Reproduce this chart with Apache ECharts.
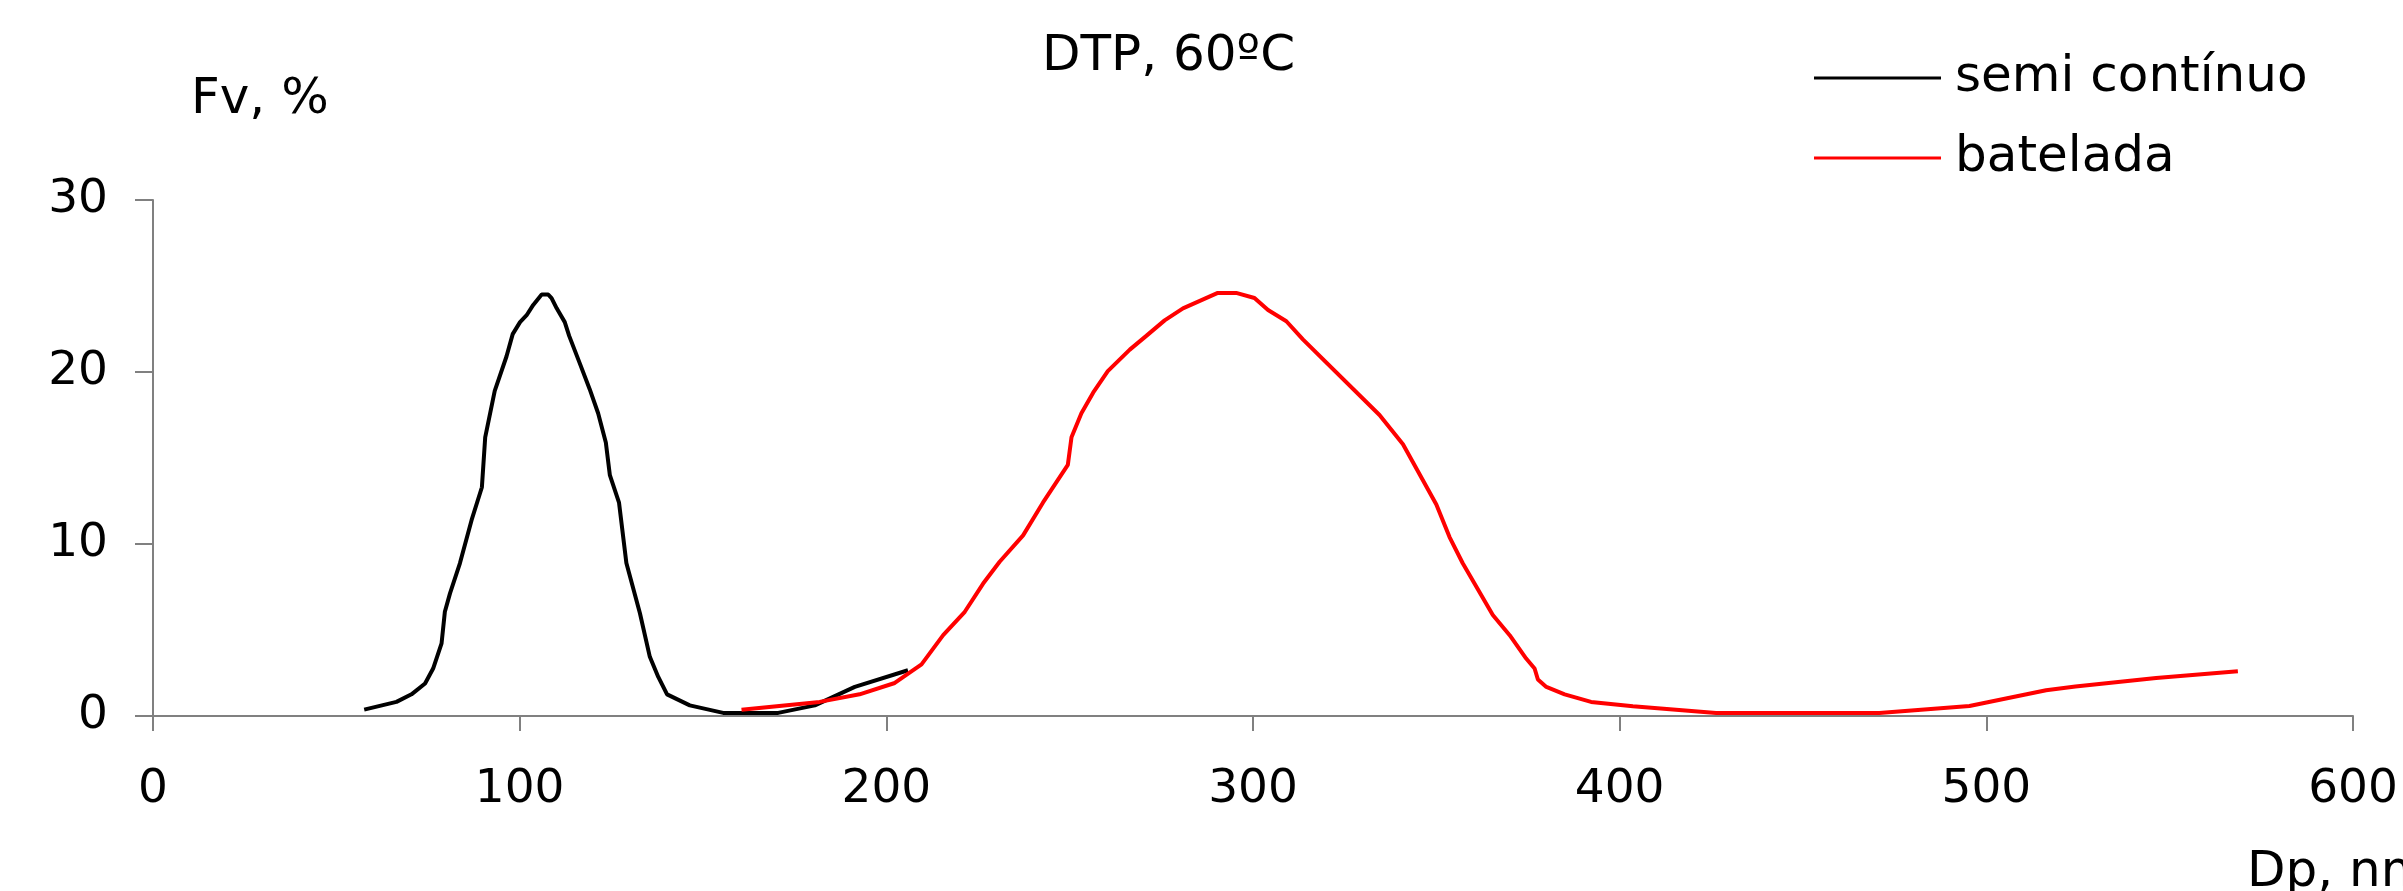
<!DOCTYPE html>
<html>
<head>
<meta charset="utf-8">
<script src="https://cdn.jsdelivr.net/npm/echarts@6/dist/echarts.min.js"></script>
<style>
html,body{margin:0;padding:0;background:#fff;}
#chart{width:2403px;height:891px;}
</style>
</head>
<body>
<div id="chart"></div>
<script>
// semi contínuo (black)
var semiDp = [57.6,66.4,70.5,74.2,76.4,78.7,79.6,81.0,83.7,86.9,89.7,90.6,93.2,96.4,98.1,100.1,101.9,103.7,106.0,107.8,108.7,110.1,112.3,113.5,116.4,119.1,121.4,123.5,124.6,127.1,129.1,132.8,135.5,137.8,140.2,146.4,155.5,170.5,180.5,191.4,205.9];
var semiFv = [0.37,0.82,1.26,1.89,2.76,4.22,6.06,7.13,8.88,11.4,13.3,16.2,18.9,20.9,22.2,22.9,23.3,23.9,24.5,24.5,24.3,23.7,22.9,22.1,20.5,19.0,17.6,15.9,14.0,12.4,8.9,5.97,3.44,2.27,1.26,0.62,0.18,0.18,0.62,1.69,2.66];
// batelada (red)
var batDp = [160.5,181.8,192.7,202.3,209.6,215.5,221.4,226.4,230.9,237.3,242.7,249.5,250.5,253.2,256.4,260.4,266.4,270.9,275.9,280.9,290.4,295.4,300.4,304.1,309.1,313.6,334.5,340.9,350.0,353.6,357.2,365.4,370.0,374.5,376.8,377.7,380.0,385.0,392.2,403.6,426.3,470.8,495.4,516.3,524.3,546.3,568.6];
var batFv = [0.37,0.82,1.26,1.92,3.0,4.7,6.06,7.7,8.97,10.5,12.4,14.6,16.2,17.6,18.8,20.05,21.3,22.1,23.0,23.7,24.6,24.6,24.3,23.6,22.95,21.9,17.5,15.8,12.3,10.4,8.88,5.87,4.7,3.34,2.76,2.12,1.69,1.26,0.82,0.57,0.18,0.18,0.58,1.50,1.71,2.21,2.6];
var seriesNames = ['semi contínuo', 'batelada'];
var titleText = 'DTP, 60ºC';
var yTitle = 'Fv, %';
var xTitle = 'Dp, nm';

function pairs(xs, ys){ return xs.map(function(x,i){ return [x, ys[i]]; }); }

var FONT = 'DejaVu Sans';
var chart = echarts.init(document.getElementById('chart'), null, {renderer:'canvas'});
chart.setOption({
  animation: false,
  backgroundColor: '#ffffff',
  title: [
    {text: titleText, left: 1042, top: 32, padding: 0,
     textStyle:{fontFamily: FONT, fontSize: 50, lineHeight: 50, fontWeight:'normal', color:'#000'}},
    {text: yTitle, left: 191, top: 75, padding: 0,
     textStyle:{fontFamily: FONT, fontSize: 50, lineHeight: 50, fontWeight:'normal', color:'#000'}},
    {text: xTitle, left: 2247, top: 848, padding: 0,
     textStyle:{fontFamily: FONT, fontSize: 50, lineHeight: 50, fontWeight:'normal', color:'#000'}}
  ],
  legend: {
    orient: 'vertical',
    left: 1814, top: 48,
    padding: 0,
    itemWidth: 127, itemHeight: 3, itemGap: 20,
    icon: 'rect',
    data: seriesNames,
    textStyle: {fontFamily: FONT, fontSize: 50, lineHeight: 52, color:'#000', padding:[8,0,0,9]}
  },
  grid: {left: 153, right: 50, top: 200, bottom: 175, containLabel: false},
  xAxis: {
    type: 'value', min: 0, max: 600, interval: 100,
    axisLine: {show: true, onZero: false, lineStyle: {color:'#808080', width: 2}},
    axisTick: {show: true, inside: false, length: 15, lineStyle:{color:'#808080', width:2}},
    splitLine: {show: false},
    axisLabel: {fontFamily: FONT, fontSize: 47, lineHeight: 47, color:'#000', margin: 50}
  },
  yAxis: {
    type: 'value', min: 0, max: 30, interval: 10,
    axisLine: {show: true, onZero: false, lineStyle: {color:'#808080', width: 2}},
    axisTick: {show: true, inside: false, length: 18, lineStyle:{color:'#808080', width:2}},
    splitLine: {show: false},
    axisLabel: {fontFamily: FONT, fontSize: 47, lineHeight: 47, color:'#000', margin: 45}
  },
  series: [
    {name: seriesNames[0], type:'line', data: pairs(semiDp, semiFv), showSymbol:false, symbol:'none',
     color:'#000000', lineStyle:{color:'#000000', width:4}, z: 3},
    {name: seriesNames[1], type:'line', data: pairs(batDp, batFv), showSymbol:false, symbol:'none',
     color:'#ff0000', lineStyle:{color:'#ff0000', width:4}, z: 4}
  ]
});
</script>
</body>
</html>
